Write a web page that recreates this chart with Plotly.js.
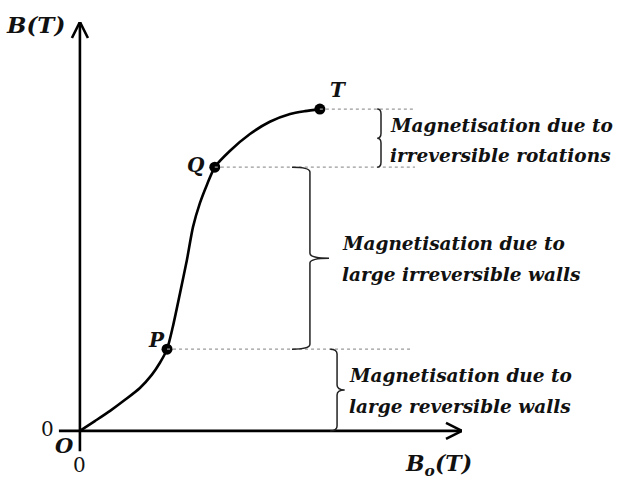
<!DOCTYPE html>
<html>
<head>
<meta charset="utf-8">
<script src="https://cdn.plot.ly/plotly-3.0.1.min.js"></script>
<style>html,body{margin:0;padding:0;background:#fff}#chart{width:627px;height:484px}</style>
</head>
<body>
<div id="chart"></div>
<script>
// Magnetisation curve B(T) vs Bo(T), arbitrary units
const curveB0 = [0, 0.39, 0.79, 1.18, 1.57, 1.88, 2.09, 2.28, 2.43, 2.62, 2.80, 2.96, 3.14, 3.32, 3.53, 3.93, 4.45, 4.97, 5.50, 5.89, 6.28];
const curveB  = [0, 0.24, 0.49, 0.76, 1.05, 1.37, 1.66, 2.00, 2.54, 3.37, 4.18, 4.99, 5.57, 6.01, 6.45, 6.85, 7.26, 7.56, 7.75, 7.82, 7.87];
const pointNames = ["P", "Q", "T"];
const pointB0 = [2.28, 3.53, 6.28];
const pointB  = [2.00, 6.45, 7.87];
const regionLine1 = ["Magnetisation due to", "Magnetisation due to", "Magnetisation due to"];
const regionLine2 = ["large reversible walls", "large irreversible walls", "irreversible rotations"];

const FONT = "DejaVu Serif, Liberation Serif, serif";
const XR = [-0.6, 10], YR = [-0.54, 10];
const PXX = 38.2, PXY = 40.9; // pixels per data unit

const traces = [
  {x: curveB0, y: curveB, mode: "lines", line: {color: "#000", width: 2.6, shape: "spline", smoothing: 0.7}, hoverinfo: "skip"},
  {x: pointB0, y: pointB, mode: "markers", marker: {color: "#000", size: 11}, hoverinfo: "skip"}
];

const shapes = [];
// axes
const axisLine = {color: "#000", width: 2.6};
shapes.push({type: "line", xref: "x", yref: "y", x0: -0.55, x1: 10, y0: 0, y1: 0, line: axisLine});
shapes.push({type: "line", xref: "x", yref: "y", x0: 0, x1: 0, y0: -0.5, y1: 10, line: axisLine});
// arrowheads (open chevrons)
const aL = 16, aW = 8;
shapes.push({type: "path", xref: "x", yref: "y", line: axisLine,
  path: `M${10 - aL / PXX},${aW / PXY} L10,0 L${10 - aL / PXX},${-aW / PXY}`});
shapes.push({type: "path", xref: "x", yref: "y", line: axisLine,
  path: `M${-aW / PXX},${10 - aL / PXY} L0,10 L${aW / PXX},${10 - aL / PXY}`});
// dotted guide lines
const guideEnd = [8.64, 8.77, 8.77];
pointB.forEach((b, i) => {
  shapes.push({type: "line", xref: "x", yref: "y", x0: pointB0[i], x1: guideEnd[i], y0: b, y1: b,
    line: {color: "#9a9a9a", width: 1.4, dash: "dot"}});
});
// braces
function brace(xv, y0, y1, h, t) {
  const ym = (y0 + y1) / 2, dy = 0.12;
  return `M${xv - h},${y1} Q${xv},${y1} ${xv},${y1 - dy} L${xv},${ym + dy} Q${xv},${ym} ${xv + t},${ym} ` +
         `Q${xv},${ym} ${xv},${ym - dy} L${xv},${y0 + dy} Q${xv},${y0} ${xv - h},${y0}`;
}
const bracePos = [6.73, 6.02, 7.88];
const braceHook = [0.18, 0.47, 0.1];
const braceTip = [0.2, 0.5, -0.1];
const lows = [0, pointB[0], pointB[1]];
const highs = [pointB[0], pointB[1], pointB[2]];
for (let i = 0; i < 3; i++) {
  shapes.push({type: "path", xref: "x", yref: "y", path: brace(bracePos[i], lows[i], highs[i], braceHook[i], braceTip[i]),
    line: {color: "#222", width: 1.5}});
}

const tf = (s) => ({family: FONT, size: s, color: "#111", weight: "bold", style: "italic"});
const ann = [];
// axis titles and origin
ann.push({x: 0, y: 10, xref: "x", yref: "y", text: "B(T)", showarrow: false, xanchor: "right", yanchor: "middle", xshift: -13, yshift: -2, font: tf(23)});
ann.push({x: 10, y: 0, xref: "x", yref: "y", text: "B<sub>o</sub>(T)", showarrow: false, xanchor: "right", yanchor: "middle", xshift: 12, yshift: -34, font: tf(22)});
ann.push({x: 0, y: 0, xref: "x", yref: "y", text: "O", showarrow: false, xanchor: "center", yanchor: "middle", xshift: -15, yshift: -15, font: tf(21)});
ann.push({x: 0, y: 0, xref: "x", yref: "y", text: "0", showarrow: false, xanchor: "center", yanchor: "middle", xshift: -32, yshift: 2, font: {family: FONT, size: 20, color: "#111"}});
ann.push({x: 0, y: 0, xref: "x", yref: "y", text: "0", showarrow: false, xanchor: "center", yanchor: "middle", xshift: 0, yshift: -34, font: {family: FONT, size: 20, color: "#111"}});
// point labels
const lblShift = [[-11, 9], [-19, 2], [19, 19]];
pointNames.forEach((n, i) => {
  ann.push({x: pointB0[i], y: pointB[i], xref: "x", yref: "y", text: n, showarrow: false, xanchor: "center", yanchor: "middle",
    xshift: lblShift[i][0], yshift: lblShift[i][1], font: tf(20)});
});
// region text
const textX = [6.99, 6.81, 8.06];
const textShift = [[15, -16], [15, -16], [13, -17]];
for (let i = 0; i < 3; i++) {
  const ym = (lows[i] + highs[i]) / 2;
  ann.push({x: textX[i], y: ym, xref: "x", yref: "y", text: regionLine1[i], showarrow: false, xanchor: "left", yanchor: "middle", yshift: textShift[i][0], font: tf(18.5)});
  ann.push({x: textX[i], y: ym, xref: "x", yref: "y", text: regionLine2[i], showarrow: false, xanchor: "left", yanchor: "middle", yshift: textShift[i][1], font: tf(18.5)});
}

const layout = {
  width: 627, height: 484,
  margin: {l: 57, r: 165, t: 22, b: 31},
  paper_bgcolor: "#fff", plot_bgcolor: "#fff",
  showlegend: false,
  xaxis: {range: XR, visible: false, fixedrange: true},
  yaxis: {range: YR, visible: false, fixedrange: true},
  shapes: shapes,
  annotations: ann
};
Plotly.newPlot("chart", traces, layout, {staticPlot: true, displayModeBar: false});
</script>
</body>
</html>
